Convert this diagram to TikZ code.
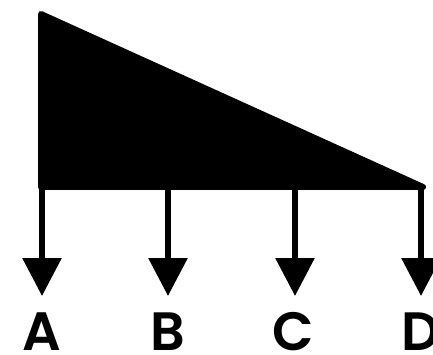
\documentclass[tikz,border=0pt]{standalone}
\usepackage{fontspec}
\setmainfont{Poppins}
\newfontfamily\letterfont{Poppins SemiBold}
\usetikzlibrary{arrows.meta}

\tikzset{
    load/.style={line width=6pt, -{Triangle[length=38pt,width=38pt]}},
    letter/.style={font=\fontsize{54}{58}\letterfont, inner sep=0pt}
}

\begin{document}
\begin{tikzpicture}[x=1pt,y=-1pt]
    % Fix the page size
    \useasboundingbox (0,0) rectangle (433,355);

    % Draw the triangular load
    \filldraw[line width=6pt, line join=round] (41,14) -- (41,187) -- (423,187) -- cycle;

    % Points on the base and tips of the arrows
    \coordinate (a) at (42,187);
    \coordinate (b) at (168,187);
    \coordinate (c) at (295,187);
    \coordinate (d) at (421,187);
    \coordinate (ta) at (42,296);
    \coordinate (tb) at (168,296);
    \coordinate (tc) at (295,296);
    \coordinate (td) at (421,296);

    % Draw the arrows
    \draw[load] (a) -- (ta);
    \draw[load] (b) -- (tb);
    \draw[load] (c) -- (tc);
    \draw[load] (d) -- (td);

    % Label the arrows
    \node[letter] (A) at (42,332) {A};
    \node[letter] (B) at (168,332) {B};
    \node[letter] (C) at (293,332) {C};
    \node[letter] (D) at (421,332) {D};

\end{tikzpicture}
\end{document}
